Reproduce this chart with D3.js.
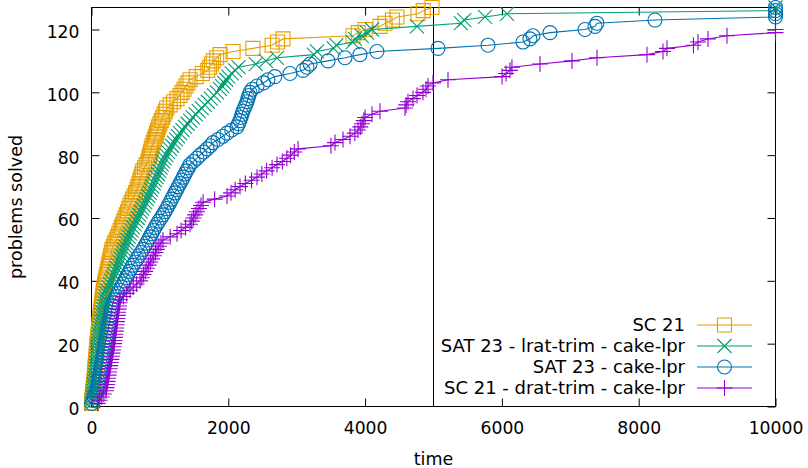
<!DOCTYPE html>
<html lang="en">
<head>
<meta charset="UTF-8">
<title>problems solved</title>
<script src="https://d3js.org/d3.v7.min.js"></script>
<style>
  body { margin: 0; background: #fff; }
  svg text { font-family: "DejaVu Sans", sans-serif; font-size: 17px; fill: #000; }
</style>
</head>
<body>
<div id="chart"></div>
<script>
// solve times (s), sorted - the n-th entry is the n-th problem solved
const sc21 = [0, 5, 10, 15, 20, 25, 30, 35, 40, 43, 47, 50, 54, 58, 62, 66, 70, 73, 77, 80,
  85, 90, 95, 100, 105, 110, 115, 120, 126, 132, 138, 144, 150, 155, 160, 168, 176, 184, 192, 200,
  210, 220, 230, 240, 250, 260, 270, 280, 290, 300, 320, 340, 360, 380, 400, 418, 436, 454, 472, 490,
  508, 526, 544, 562, 580, 601, 622, 643, 665, 679, 693, 707, 721, 735, 750, 775, 800, 826, 838, 850,
  862, 874, 885, 902, 918, 934, 950, 966, 983, 1000, 1020, 1040, 1060, 1080, 1100, 1150, 1200, 1250, 1294, 1323,
  1352, 1381, 1410, 1440, 1530, 1620, 1700, 1727, 1753, 1780, 1830, 1880, 2070, 2360, 2640, 2720, 2800, 3823, 3900, 4000,
  4218, 4291, 4400, 4466, 4773, 4850, 4978];

const sat23Lrat = [0, 5, 10, 16, 22, 28, 34, 40, 45, 50, 55, 60, 65, 70, 75, 80, 84, 88, 92, 96,
  100, 104, 108, 114, 120, 128, 137, 146, 155, 164, 173, 182, 191, 200, 209, 218, 227, 248, 269, 290,
  311, 332, 352, 373, 390, 407, 424, 441, 458, 475, 492, 509, 526, 545, 563, 585, 607, 630, 652, 675,
  697, 720, 742, 765, 787, 810, 830, 850, 870, 890, 910, 930, 950, 970, 990, 1010, 1028, 1045, 1070, 1095,
  1120, 1147, 1176, 1205, 1235, 1265, 1294, 1331, 1368, 1405, 1442, 1480, 1524, 1568, 1612, 1656, 1700, 1745, 1790, 1835,
  1880, 1910, 1940, 1970, 2000, 2050, 2100, 2150, 2400, 2550, 2712, 3250, 3297, 3540, 3580, 3820, 3852, 3950, 4028, 4100,
  4759, 5400, 5450, 5753, 6075, 10000, 10000];

const sat23 = [0, 20, 40, 60, 80, 88, 96, 104, 112, 120, 128, 136, 144, 152, 160, 168, 176, 184, 192, 200,
  209, 218, 227, 236, 245, 254, 263, 272, 280, 288, 296, 305, 314, 338, 362, 386, 410, 435, 460, 484,
  508, 532, 556, 580, 607, 636, 665, 694, 723, 753, 778, 804, 830, 855, 880, 905, 930, 957, 985, 1015,
  1045, 1072, 1100, 1124, 1148, 1172, 1196, 1220, 1244, 1270, 1294, 1318, 1342, 1366, 1390, 1415, 1440, 1490, 1540, 1586,
  1640, 1690, 1740, 1777, 1850, 1920, 1981, 2050, 2127, 2150, 2170, 2185, 2200, 2215, 2235, 2255, 2273, 2288, 2302, 2317,
  2350, 2420, 2515, 2580, 2680, 2902, 3093, 3150, 3195, 3458, 3706, 3925, 4173, 5066, 5797, 6308, 6410, 6455, 6703, 7215,
  7361, 7390, 8238, 10000, 10000, 10000, 10000];

const sc21Drat = [90, 120, 150, 180, 210, 218, 226, 234, 242, 250, 258, 266, 274, 282, 290, 298, 306, 314, 322, 330,
  336, 342, 348, 354, 360, 366, 372, 378, 384, 390, 396, 403, 410, 417, 465, 515, 563, 610, 660, 709,
  735, 760, 785, 810, 835, 860, 885, 910, 935, 957, 985, 1015, 1045, 1150, 1250, 1310, 1375, 1440, 1465, 1490,
  1515, 1542, 1570, 1600, 1631, 1800, 1981, 2040, 2100, 2171, 2250, 2340, 2420, 2490, 2560, 2640, 2712, 2790, 2856, 2910,
  2965, 3020, 3500, 3560, 3677, 3779, 3850, 3896, 3930, 3955, 3980, 4000, 4101, 4218, 4583, 4600, 4627, 4700, 4759, 4846,
  4890, 4920, 4993, 5212, 6002, 6060, 6118, 6147, 6557, 7025, 7390, 8121, 8355, 8414, 8800, 8867, 9013, 9291, 10000, 10000];

const seriesNames = ["SC 21", "SAT 23 - lrat-trim - cake-lpr", "SAT 23 - cake-lpr", "SC 21 - drat-trim - cake-lpr"];
const seriesTimes = [sc21, sat23Lrat, sat23, sc21Drat];
const seriesColors = ["#e69f00", "#009e73", "#0072b2", "#9400d3"];
const seriesMarkers = ["square", "cross", "circle", "plus"];

const xTicks = [0, 2000, 4000, 6000, 8000, 10000];
const yTicks = [0, 20, 40, 60, 80, 100, 120];
const timeLimit = 5000;

const width = 808, height = 468;

const svg = d3.select("#chart").append("svg")
    .attr("width", width)
    .attr("height", height)
    .style("display", "block");

svg.append("rect").attr("width", width).attr("height", height).attr("fill", "#fff");

const x = d3.scaleLinear().domain([0, 10000]).range([91.5, 775.5]);
const y = d3.scaleLinear().domain([0, 127]).range([406.5, 7.5]);

const [x0, x1] = x.range();
const [y0, y1] = y.range();

svg.append("clipPath").attr("id", "plotclip")
    .append("rect")
    .attr("x", x0).attr("y", y1)
    .attr("width", x1 - x0).attr("height", y0 - y1);

// axes, ticks pointing inwards, mirrored on top / right
function styleAxis(g) {
    g.select(".domain").remove();
    g.selectAll(".tick line").attr("stroke", "#000").attr("stroke-width", 1);
    g.selectAll(".tick text").style("font-size", "17.2px").style("font-family", "DejaVu Sans, sans-serif");
}

svg.append("g")
    .attr("transform", "translate(0," + y0 + ")")
    .call(d3.axisBottom(x).tickValues(xTicks).tickSize(-8).tickPadding(15).tickFormat(d3.format("d")))
    .call(styleAxis);

svg.append("g")
    .attr("transform", "translate(0," + y1 + ")")
    .call(d3.axisTop(x).tickValues(xTicks).tickSize(-8).tickFormat(""))
    .call(styleAxis);

svg.append("g")
    .attr("transform", "translate(" + x0 + ",0)")
    .call(d3.axisLeft(y).tickValues(yTicks).tickSize(-8).tickPadding(12))
    .call(styleAxis)
    .selectAll(".tick text").attr("dy", "0.46em");

svg.append("g")
    .attr("transform", "translate(" + x1 + ",0)")
    .call(d3.axisRight(y).tickValues(yTicks).tickSize(-8).tickFormat(""))
    .call(styleAxis);

// frame
svg.append("rect")
    .attr("x", x0).attr("y", y1)
    .attr("width", x1 - x0).attr("height", y0 - y1)
    .attr("fill", "none").attr("stroke", "#000").attr("stroke-width", 1);

// time limit line
svg.append("line")
    .attr("x1", x(timeLimit)).attr("x2", x(timeLimit))
    .attr("y1", y0).attr("y2", y1)
    .attr("stroke", "#000").attr("stroke-width", 1);

// axis titles
svg.append("text")
    .attr("transform", "translate(17," + ((y0 + y1) / 2) + ") rotate(-90)")
    .attr("text-anchor", "middle")
    .attr("dy", "0.26em")
    .style("font-size", "17.5px")
    .text("problems solved");

svg.append("text")
    .attr("x", (x0 + x1) / 2).attr("y", 465)
    .attr("text-anchor", "middle")
    .style("font-size", "17.5px")
    .text("time");

function markerPath(type, r) {
    const p = d3.path();
    if (type === "square") {
        p.rect(-r, -r, 2 * r, 2 * r);
    } else if (type === "circle") {
        p.moveTo(r, 0);
        p.arc(0, 0, r, 0, 2 * Math.PI);
    } else if (type === "cross") {
        p.moveTo(-r, -r); p.lineTo(r, r);
        p.moveTo(-r, r); p.lineTo(r, -r);
    } else {
        p.moveTo(-r, 0); p.lineTo(r, 0);
        p.moveTo(0, -r); p.lineTo(0, r);
    }
    return p.toString();
}
const markerSize = { square: 7, circle: 7, cross: 7, plus: 8 };

const line = d3.line()
    .x(d => x(d[0]))
    .y(d => y(d[1]));

seriesTimes.forEach((times, i) => {
    // y value = number of problems solved so far
    const pts = times.map((t, k) => [t, k + 1]);
    const g = svg.append("g");
    g.append("path")
        .datum(pts)
        .attr("clip-path", "url(#plotclip)")
        .attr("fill", "none")
        .attr("stroke", seriesColors[i])
        .attr("stroke-width", 1.1)
        .attr("d", line);
    g.selectAll("path.pt")
        .data(pts)
        .enter().append("path")
        .attr("class", "pt")
        .attr("transform", d => "translate(" + x(d[0]) + "," + y(d[1]) + ")")
        .attr("d", markerPath(seriesMarkers[i], markerSize[seriesMarkers[i]]))
        .attr("fill", "none")
        .attr("stroke", seriesColors[i])
        .attr("stroke-width", 1.1);
});

// legend
const legend = svg.append("g");
seriesNames.forEach((name, i) => {
    const ly = 325 + i * 21;
    legend.append("text")
        .attr("x", 685).attr("y", ly)
        .attr("dy", "0.36em")
        .attr("text-anchor", "end")
        .style("font-size", "18px")
        .text(name);
    legend.append("line")
        .attr("x1", 697).attr("x2", 752)
        .attr("y1", ly).attr("y2", ly)
        .attr("stroke", seriesColors[i]).attr("stroke-width", 1.1);
    legend.append("path")
        .attr("transform", "translate(724.5," + ly + ")")
        .attr("d", markerPath(seriesMarkers[i], markerSize[seriesMarkers[i]]))
        .attr("fill", "none")
        .attr("stroke", seriesColors[i])
        .attr("stroke-width", 1.1);
});
</script>
</body>
</html>
